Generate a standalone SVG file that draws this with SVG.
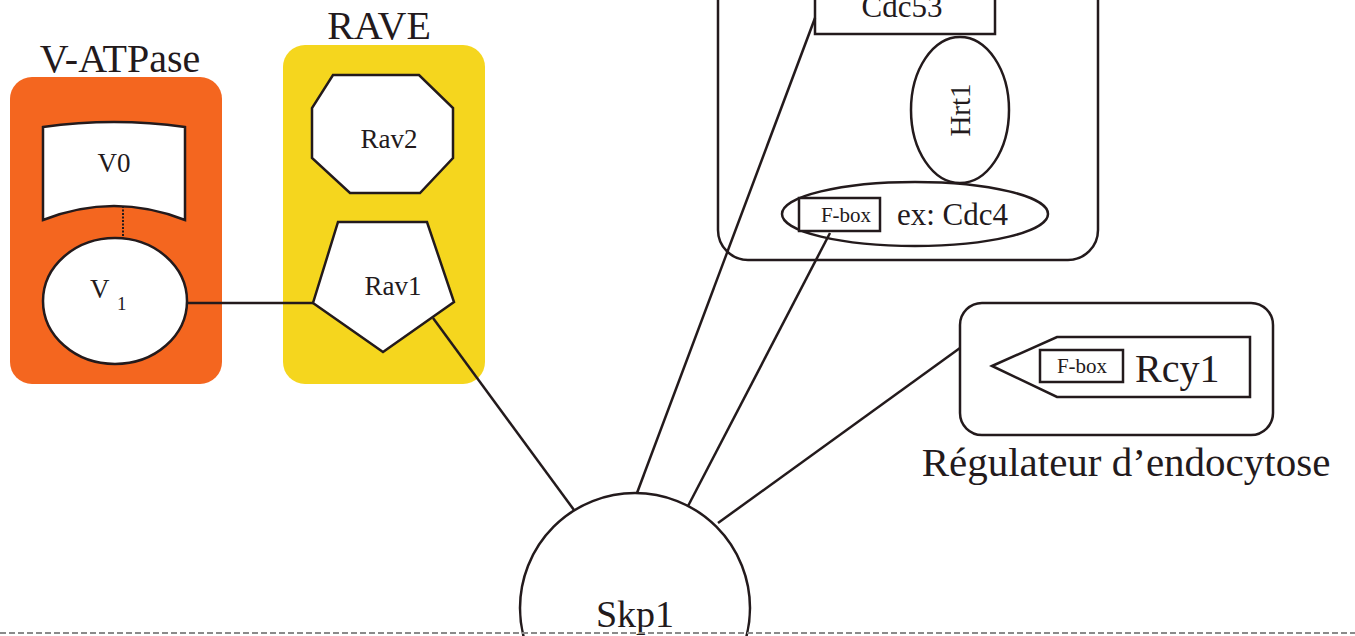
<svg xmlns="http://www.w3.org/2000/svg" width="1355" height="636" viewBox="0 0 1355 636">
<style>
.t{font-family:"Liberation Serif","Times New Roman",serif;fill:#231a1c}
.s{fill:#fff;stroke:#231a1c;stroke-width:2.5}
.n{fill:none;stroke:#231a1c;stroke-width:2.5}
.c{stroke:#231a1c;stroke-width:2.5;fill:none}
</style>
<rect width="1355" height="636" fill="#fff"/>
<g id="vatpase">
<rect x="10" y="77" width="212" height="307" rx="22" fill="#F4661F"/>
<text class="t" x="120" y="72" font-size="40" text-anchor="middle">V-ATPase</text>
<path class="s" d="M43,127 Q114,117 185,127 L185,220 Q114,192 43,220 Z"/>
<text class="t" x="114" y="172" font-size="27" text-anchor="middle">V0</text>
<line x1="123" y1="206" x2="123" y2="239" stroke="#231a1c" stroke-width="2" stroke-dasharray="2,1.5"/>
<ellipse class="s" cx="115" cy="301" rx="72" ry="63"/>
<text class="t" x="90" y="298" font-size="27">V</text>
<text class="t" x="117" y="310" font-size="19">1</text>
</g>
<g id="rave">
<rect x="283" y="45" width="202" height="339" rx="22" fill="#F5D61E"/>
<text class="t" x="379" y="39" font-size="40" text-anchor="middle">RAVE</text>
</g>
<g id="rav2">
<polygon class="s" points="333,75 419,75 453,108 453,158 420,193 350,193 312,158 312,108"/>
<text class="t" x="389" y="148" font-size="27" text-anchor="middle">Rav2</text>
</g>
<g id="rav1">
<polygon class="s" points="338,222 427,222 454,302 383,352 313,303"/>
<text class="t" x="393" y="295" font-size="27" text-anchor="middle">Rav1</text>
</g>
<g id="scf">
<rect class="n" x="718" y="-40" width="380" height="300" rx="30"/>
</g>
<g id="cdc53">
<rect class="s" x="815" y="-10" width="180" height="44"/>
<text class="t" x="902" y="17" font-size="31" text-anchor="middle">Cdc53</text>
</g>
<g id="hrt1">
<ellipse class="s" cx="960" cy="110" rx="49" ry="73"/>
<text class="t" font-size="29" text-anchor="middle" transform="translate(970,110) rotate(-90)">Hrt1</text>
</g>
<g id="cdc4">
<ellipse class="s" cx="915" cy="214" rx="133" ry="32"/>
<rect class="s" x="799" y="198" width="81" height="33"/>
<text class="t" x="846" y="222" font-size="21" text-anchor="middle">F-box</text>
<text class="t" x="897" y="225" font-size="31">ex: Cdc4</text>
</g>
<g id="rcy1">
<rect class="n" x="960" y="303" width="313" height="132" rx="22"/>
<polygon class="s" points="992,366 1057,337 1250,337 1250,397 1057,397"/>
<rect class="s" x="1040" y="350" width="83" height="32"/>
<text class="t" x="1082" y="373" font-size="21" text-anchor="middle">F-box</text>
<text class="t" x="1135" y="382" font-size="40">Rcy1</text>
<text class="t" x="1126" y="476" font-size="41" text-anchor="middle">Régulateur d’endocytose</text>
</g>
<g id="connectors">
<line class="c" x1="187" y1="303" x2="313" y2="303"/>
<line class="c" x1="433" y1="318" x2="574" y2="510"/>
<line class="c" x1="815" y1="18" x2="637" y2="493"/>
<line class="c" x1="830" y1="233" x2="687" y2="508"/>
<line class="c" x1="960" y1="348" x2="718" y2="523"/>
</g>
<g id="skp1">
<circle class="s" cx="635" cy="608" r="115"/>
<text class="t" x="635" y="627" font-size="38" text-anchor="middle">Skp1</text>
</g>
<line x1="0" y1="633" x2="1355" y2="633" stroke="#8a8a8a" stroke-width="2" stroke-dasharray="6,3"/>
</svg>
